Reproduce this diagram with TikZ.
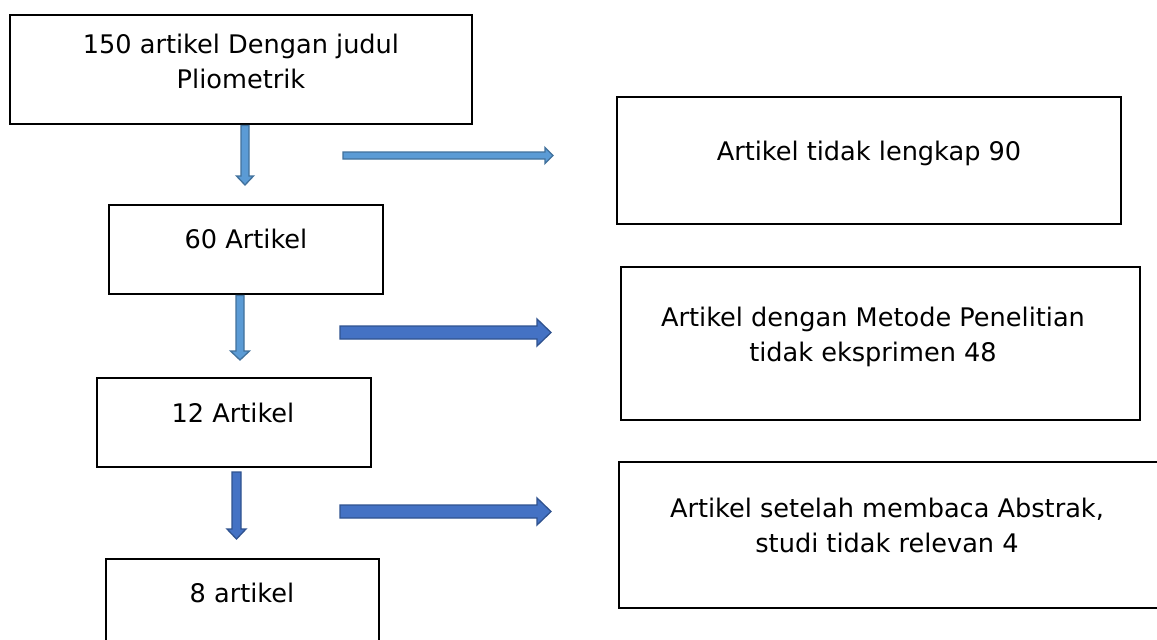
\documentclass[tikz,border=0pt]{standalone}
\usepackage{fontspec}
\setmainfont{DejaVu Sans}
\begin{document}
\begin{tikzpicture}[x=1pt,y=-1pt,
  box/.style={draw=black, line width=2.8pt, rectangle, inner sep=0pt},
  lbl/.style={font=\fontsize{25.6}{35}\selectfont, align=center, anchor=base, inner sep=0pt, text=black},
  arrlight/.style={fill=arrL, draw=arrLd, line width=1.3pt, line join=miter},
  arrdark/.style={fill=arrD, draw=arrDd, line width=1.3pt, line join=miter}]
\definecolor{arrL}{HTML}{5B9BD5}
\definecolor{arrLd}{HTML}{41719C}
\definecolor{arrD}{HTML}{4472C4}
\definecolor{arrDd}{HTML}{2F528F}
\clip (0,0) rectangle (1157,640);
\useasboundingbox (0,0) rectangle (1157,640);
\fill[white] (0,0) rectangle (1157,640);
% boxes
\node[box, minimum width=462pt, minimum height=109pt] (b1) at (241,69.5) {};
\node[box, minimum width=504pt, minimum height=127pt] (b2) at (869,160.5) {};
\node[box, minimum width=274pt, minimum height=89pt] (b3) at (246,249.5) {};
\node[box, minimum width=519pt, minimum height=153pt] (b4) at (880.5,343.5) {};
\node[box, minimum width=274pt, minimum height=89pt] (b5) at (234,422.5) {};
\node[box, minimum width=545pt, minimum height=146pt] (b6) at (891.5,535) {};
\node[box, minimum width=273pt, minimum height=96pt] (b7) at (242.5,607) {};
% texts (multi-line nodes: base anchor = last line)
\node[lbl] (t1) at (241,88) {150 artikel Dengan judul\\Pliometrik};
\node[lbl] (t2) at (869,160) {Artikel tidak lengkap 90};
\node[lbl] (t3) at (246,248) {60 Artikel};
\node[lbl] (t4) at (873,361) {Artikel dengan Metode Penelitian\\tidak eksprimen 48};
\node[lbl] (t5) at (233,422) {12 Artikel};
\node[lbl] (t6) at (887,552) {Artikel setelah membaca Abstrak,\\studi tidak relevan 4};
\node[lbl] (t7) at (242,602) {8 artikel};
% block arrows: #1 style, #2 start, #3 end, #4 cross centre, #5 shaft half, #6 head half, #7 head length
\newcommand{\varrow}[7]{%
  \filldraw[#1] (#4-#5,#2) -- (#4+#5,#2) -- (#4+#5,#3-#7) -- (#4+#6,#3-#7) -- (#4,#3) -- (#4-#6,#3-#7) -- (#4-#5,#3-#7) -- cycle;}
\newcommand{\harrow}[7]{%
  \filldraw[#1] (#2,#4-#5) -- (#3-#7,#4-#5) -- (#3-#7,#4-#6) -- (#3,#4) -- (#3-#7,#4+#6) -- (#3-#7,#4+#5) -- (#2,#4+#5) -- cycle;}
\varrow{arrlight}{125.5}{185}{245}{4}{8.5}{9}
\harrow{arrlight}{343}{553}{155.5}{3.5}{8}{8}
\varrow{arrlight}{295.5}{360}{240}{4}{9.5}{9}
\harrow{arrdark}{340}{551}{332.5}{6.5}{13.5}{14}
\varrow{arrdark}{472}{539}{236.5}{4.5}{9.5}{10}
\harrow{arrdark}{340}{551}{511.5}{6.5}{13.5}{14}
\end{tikzpicture}
\end{document}
